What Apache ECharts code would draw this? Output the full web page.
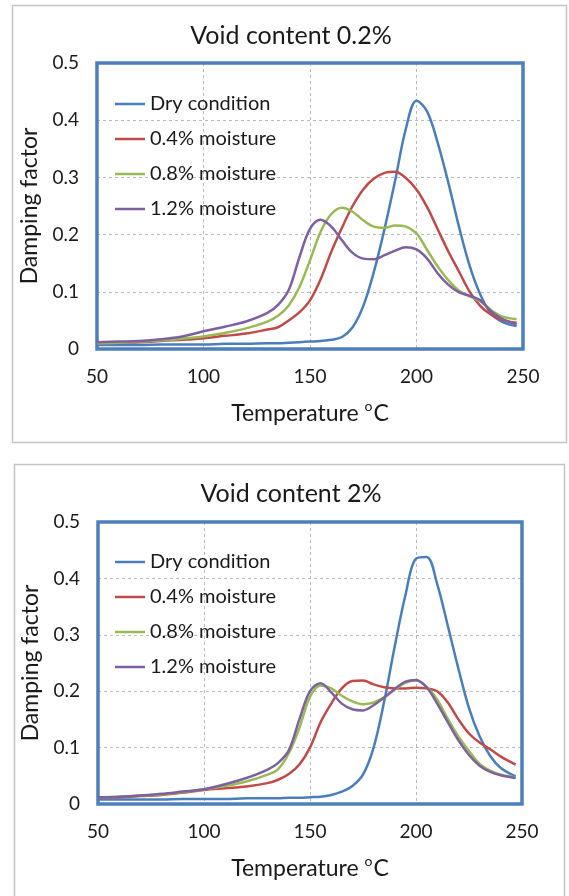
<!DOCTYPE html>
<html>
<head>
<meta charset="utf-8">
<script src="https://cdn.jsdelivr.net/npm/echarts@6/dist/echarts.min.js"></script>
<style>
html,body{margin:0;padding:0;background:#fff;}
#chart{width:569px;height:896px;}
</style>
</head>
<body>
<div id="chart"></div>
<script>
// ---------- data ----------
var titles = ['Void content 0.2%', 'Void content 2%'];
var seriesNames = ['Dry condition', '0.4% moisture', '0.8% moisture', '1.2% moisture'];
var xTicks = [50, 100, 150, 200, 250];
var yTicks = [0, 0.1, 0.2, 0.3, 0.4, 0.5];
var temps = [50, 60, 70, 80, 90, 100, 110, 120, 130, 135, 140, 145, 150, 155, 160, 165, 170, 175, 180, 185, 190, 195, 200, 205, 210, 215, 220, 225, 230, 235, 240, 247];

// Void content 0.2%
var dry02 = [0.007, 0.007, 0.007, 0.008, 0.008, 0.008, 0.009, 0.009, 0.010, 0.010, 0.011, 0.012, 0.013, 0.014, 0.016, 0.021, 0.038, 0.075, 0.135, 0.210, 0.295, 0.385, 0.434, 0.415, 0.360, 0.290, 0.213, 0.145, 0.095, 0.062, 0.048, 0.040];
var m04_02 = [0.010, 0.011, 0.012, 0.014, 0.016, 0.019, 0.023, 0.027, 0.034, 0.038, 0.050, 0.064, 0.085, 0.122, 0.170, 0.212, 0.250, 0.279, 0.298, 0.308, 0.310, 0.299, 0.279, 0.248, 0.209, 0.170, 0.135, 0.100, 0.075, 0.060, 0.051, 0.046];
var m08_02 = [0.010, 0.011, 0.013, 0.015, 0.018, 0.022, 0.028, 0.036, 0.048, 0.058, 0.076, 0.108, 0.155, 0.205, 0.236, 0.247, 0.240, 0.225, 0.214, 0.212, 0.216, 0.214, 0.202, 0.173, 0.144, 0.120, 0.102, 0.092, 0.083, 0.068, 0.057, 0.052];
var m12_02 = [0.012, 0.013, 0.014, 0.017, 0.022, 0.031, 0.039, 0.048, 0.063, 0.077, 0.103, 0.160, 0.210, 0.226, 0.214, 0.190, 0.168, 0.158, 0.157, 0.164, 0.172, 0.178, 0.174, 0.158, 0.132, 0.112, 0.099, 0.093, 0.085, 0.066, 0.053, 0.043];

// Void content 2%
var dry2 = [0.008, 0.008, 0.008, 0.008, 0.009, 0.009, 0.009, 0.010, 0.010, 0.010, 0.011, 0.011, 0.012, 0.013, 0.016, 0.022, 0.032, 0.052, 0.100, 0.182, 0.280, 0.370, 0.435, 0.438, 0.390, 0.316, 0.240, 0.170, 0.120, 0.085, 0.064, 0.049];
var m04_2 = [0.011, 0.012, 0.014, 0.016, 0.020, 0.025, 0.028, 0.031, 0.037, 0.043, 0.053, 0.070, 0.100, 0.145, 0.178, 0.205, 0.218, 0.219, 0.212, 0.207, 0.205, 0.205, 0.206, 0.205, 0.200, 0.180, 0.150, 0.125, 0.109, 0.097, 0.084, 0.070];
var m08_2 = [0.012, 0.013, 0.015, 0.017, 0.021, 0.026, 0.032, 0.040, 0.052, 0.062, 0.090, 0.135, 0.190, 0.210, 0.205, 0.192, 0.182, 0.177, 0.180, 0.189, 0.203, 0.215, 0.219, 0.208, 0.185, 0.151, 0.120, 0.094, 0.071, 0.059, 0.052, 0.047];
var m12_2 = [0.012, 0.013, 0.015, 0.018, 0.022, 0.026, 0.035, 0.046, 0.061, 0.073, 0.095, 0.150, 0.200, 0.214, 0.198, 0.178, 0.168, 0.166, 0.175, 0.189, 0.204, 0.217, 0.220, 0.207, 0.178, 0.145, 0.113, 0.087, 0.068, 0.057, 0.051, 0.046];

var panels = [[dry02, m04_02, m08_02, m12_02], [dry2, m04_2, m08_2, m12_2]];

// ---------- styling ----------
var FONT = 'Lato, "Open Sans", sans-serif';
var colors = ['#4a7ebb', '#be4b48', '#98b954', '#7d60a0'];
var grids = [
  {left: 97, top: 63, width: 426, height: 286},
  {left: 98, top: 522, width: 424, height: 282}
];
var titlePos = [{left: 291, top: 23}, {left: 291, top: 481}];
var legendPos = [{left: 115, top: 93}, {left: 115, top: 551}];

function pairs(vals) {
  return temps.map(function (t, i) { return [t, vals[i]]; });
}

var option = {
  animation: false,
  backgroundColor: '#fff',
  color: colors,
  textStyle: {fontFamily: FONT},
  graphic: [
    {type: 'rect', shape: {x: 12.5, y: 5.5, width: 554, height: 437}, style: {fill: 'none', stroke: '#c4c4c4', lineWidth: 1.5}, z: -1},
    {type: 'rect', shape: {x: 14.5, y: 464.5, width: 550, height: 450}, style: {fill: 'none', stroke: '#c4c4c4', lineWidth: 1.5}, z: -1}
  ],
  title: titles.map(function (t, i) {
    return {text: t, left: titlePos[i].left, top: titlePos[i].top, textAlign: 'center', padding: 0,
      textStyle: {fontFamily: FONT, fontSize: 25, fontWeight: 'normal', color: '#1a1a1a'}};
  }),
  legend: [0, 1].map(function (g) {
    return {
      orient: 'vertical', left: legendPos[g].left, top: legendPos[g].top,
      data: seriesNames.map(function (n) { return {name: n + (g ? ' ' : '')}; }),
      icon: 'rect', itemWidth: 30, itemHeight: 2.5, itemGap: 13, padding: 0,
      textStyle: {fontFamily: FONT, fontSize: 20, color: '#1a1a1a', lineHeight: 22},
      formatter: function (n) { return n.trim(); }
    };
  }),
  grid: grids.map(function (g) {
    return {left: g.left, top: g.top, width: g.width, height: g.height, show: true,
      borderColor: '#4f7fba', borderWidth: 3.5, backgroundColor: 'transparent', z: 3};
  }),
  xAxis: [0, 1].map(function (g) {
    return {
      type: 'value', gridIndex: g, min: xTicks[0], max: xTicks[xTicks.length - 1], interval: 50,
      name: '{m|Temperature }{s|o}{m|C}', nameLocation: 'middle', nameGap: 50,
      nameTextStyle: {fontFamily: FONT, fontSize: 23, color: '#1a1a1a',
        rich: {
          m: {fontSize: 23, lineHeight: 26, verticalAlign: 'bottom', fontFamily: FONT, color: '#1a1a1a'},
          s: {fontSize: 14, lineHeight: 26, verticalAlign: 'top', padding: [0, 1, 0, 0], fontFamily: FONT, color: '#1a1a1a'}
        }},
      axisLine: {show: false}, axisTick: {show: false},
      axisLabel: {fontFamily: FONT, fontSize: 19, color: '#1a1a1a', margin: 18},
      splitLine: {show: true, showMinLine: false, showMaxLine: false, lineStyle: {color: '#b8b8b8', type: [3, 3], width: 1}}
    };
  }),
  yAxis: [0, 1].map(function (g) {
    return {
      type: 'value', gridIndex: g, min: yTicks[0], max: yTicks[yTicks.length - 1], interval: 0.1,
      name: 'Damping factor', nameLocation: 'middle', nameGap: 54,
      nameTextStyle: {fontFamily: FONT, fontSize: 23, color: '#1a1a1a'},
      axisLine: {show: false}, axisTick: {show: false},
      axisLabel: {fontFamily: FONT, fontSize: 19, color: '#1a1a1a', margin: 18,
        formatter: function (v) { return v === 0 ? '0' : v.toFixed(1); }},
      splitLine: {show: true, showMinLine: false, showMaxLine: false, lineStyle: {color: '#b8b8b8', type: [3, 3], width: 1}}
    };
  }),
  series: []
};

panels.forEach(function (panel, g) {
  panel.forEach(function (vals, k) {
    option.series.push({
      type: 'line', name: seriesNames[k] + (g ? ' ' : ''), xAxisIndex: g, yAxisIndex: g,
      data: pairs(vals), smooth: 0.35, showSymbol: false, symbol: 'none',
      lineStyle: {width: 2.5, color: colors[k]}, itemStyle: {color: colors[k]}
    });
  });
});

var chart = echarts.init(document.getElementById('chart'), null, {renderer: 'canvas'});
chart.setOption(option);
</script>
</body>
</html>
